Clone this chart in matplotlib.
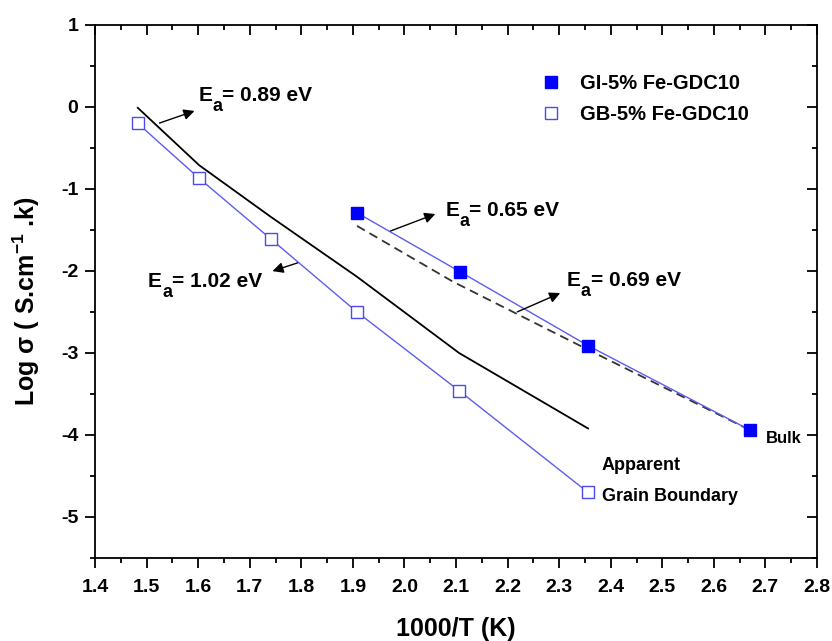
import matplotlib
matplotlib.use("Agg")
import matplotlib.pyplot as plt
import matplotlib.lines as mlines
from matplotlib.ticker import MultipleLocator

plt.rcParams['font.family'] = ['Liberation Sans', 'DejaVu Sans']
plt.rcParams['font.weight'] = 'bold'
plt.rcParams['axes.unicode_minus'] = False
plt.rcParams['mathtext.fontset'] = 'custom'
plt.rcParams['mathtext.rm'] = 'Liberation Sans:bold'
plt.rcParams['mathtext.it'] = 'Liberation Sans:bold'
plt.rcParams['mathtext.bf'] = 'Liberation Sans:bold'

# Grain interior (bulk) conductivity
gi_x = [1.908, 2.108, 2.356, 2.670]
gi_y = [-1.29, -2.01, -2.91, -3.94]

# Grain boundary conductivity
gb_x = [1.483, 1.602, 1.741, 1.908, 2.106, 2.356]
gb_y = [-0.20, -0.87, -1.61, -2.50, -3.46, -4.70]

# Apparent (total) conductivity
app_x = [1.483, 1.602, 1.741, 1.908, 2.106, 2.356]
app_y = [-0.01, -0.71, -1.34, -2.07, -3.00, -3.92]

# Bulk fit (dashed)
fit_x = [1.908, 2.094, 2.356, 2.670]
fit_y = [-1.45, -2.13, -2.96, -3.94]

x_ticks = [1.4, 1.5, 1.6, 1.7, 1.8, 1.9, 2.0, 2.1, 2.2, 2.3, 2.4, 2.5, 2.6, 2.7, 2.8]
y_ticks = [1, 0, -1, -2, -3, -4, -5]

# Activation energies: label, text anchor, arrow tail, arrow head
ea_values = ['0.89', '1.02', '0.65', '0.69']
ea_text_xy = [(1.600, 0.073), (1.503, -2.195), (2.079, -1.329), (2.315, -2.183)]
ea_tail = [(1.520, -0.207), (1.798, -1.890), (1.968, -1.524), (2.214, -2.512)]
ea_head = [(1.598, -0.037), (1.739, -2.012), (2.065, -1.293), (2.307, -2.256)]

curve_names = ['Bulk', 'Apparent', 'Grain Boundary']
curve_name_xy = [(2.701, -4.037), (2.383, -4.366), (2.383, -4.756)]
curve_name_size = [12, 13, 13]

legend_labels = ['GI-5% Fe-GDC10', 'GB-5% Fe-GDC10']

fig = plt.figure(figsize=(8.32, 6.41), dpi=100)
ax = fig.add_axes([95 / 832, 83 / 641, 722 / 832, 533 / 641])

line_blue = '#5c5cf0'
ax.plot(app_x, app_y, color='black', lw=1.3)
ax.plot(fit_x, fit_y, color='#333333', lw=1.3, ls=(0, (5, 3)))
ax.plot(gb_x, gb_y, color=line_blue, lw=1.0, marker='s', ms=8.5,
        mfc='white', mec='#4a4af0', mew=1.0)
ax.plot(gi_x, gi_y, color=line_blue, lw=1.0, marker='s', ms=8.5,
        mfc='#0000ff', mec='#0000ff')

ax.set_xlim(1.4, 2.8)
ax.set_ylim(-5.5, 1)
ax.set_xticks(x_ticks)
ax.set_xticklabels([f"{t:.1f}" for t in x_ticks])
ax.set_yticks(y_ticks)
ax.set_yticklabels([str(t) for t in y_ticks])
ax.xaxis.set_minor_locator(MultipleLocator(0.05))
ax.yaxis.set_minor_locator(MultipleLocator(0.5))
ax.tick_params(axis='x', which='major', pad=8)
ax.tick_params(axis='y', which='major', pad=5)
ax.tick_params(axis='both', which='major', direction='out', length=7, width=1.3,
               labelsize=14, top=True, right=True)
ax.tick_params(axis='both', which='minor', direction='out', length=3.6, width=1.3,
               top=True, right=True)
# mirrored ticks on top/right point into the plot
for t in ax.xaxis.get_major_ticks() + ax.xaxis.get_minor_ticks():
    t.tick2line.set_marker(3)
for t in ax.yaxis.get_major_ticks() + ax.yaxis.get_minor_ticks():
    t.tick2line.set_marker(0)
for lab in ax.get_xticklabels() + ax.get_yticklabels():
    lab.set_fontweight('bold')
for s in ax.spines.values():
    s.set_linewidth(1.3)

ax.set_xlabel('1000/T (K)', fontsize=18, fontweight='bold', labelpad=15)
ax.set_ylabel('Log σ ( S.cm$^{-1}$ .k)', fontsize=18, fontweight='bold')
ax.yaxis.set_label_coords(-0.073, 0.482)

arrow = dict(arrowstyle='-|>', color='black', lw=1.0, mutation_scale=16)
fs = 15
for val, (tx, ty), tail, head in zip(ea_values, ea_text_xy, ea_tail, ea_head):
    ax.annotate('', xy=head, xytext=tail, arrowprops=arrow)
    ax.annotate('E', xy=(tx, ty), xytext=(0, 0), textcoords='offset points',
                fontsize=fs, fontweight='bold', ha='left', va='baseline')
    ax.annotate('a', xy=(tx, ty), xytext=(0.667 * fs, -7), textcoords='offset points',
                fontsize=13, fontweight='bold', ha='left', va='baseline')
    ax.annotate(f'= {val} eV', xy=(tx, ty), xytext=(0.667 * fs + 0.556 * 13, 0),
                textcoords='offset points', fontsize=fs, fontweight='bold',
                ha='left', va='baseline')

for name, (nx, ny), size in zip(curve_names, curve_name_xy, curve_name_size):
    ax.text(nx, ny, name, fontsize=size, fontweight='bold', va='center', ha='left')

mk = [mlines.Line2D([], [], ls='none', marker='s', ms=8.5, mfc='#0000ff', mec='#0000ff'),
      mlines.Line2D([], [], ls='none', marker='s', ms=8.5, mfc='white', mec='#4a4af0')]
ax.legend(mk, legend_labels, loc='upper left', bbox_to_anchor=(0.6177, 0.908),
          frameon=False, prop={'size': 14.5, 'weight': 'bold'}, borderpad=0,
          borderaxespad=0, handletextpad=0.95, labelspacing=0.6, handlelength=1.0)

fig.savefig('out.png', dpi=100)
